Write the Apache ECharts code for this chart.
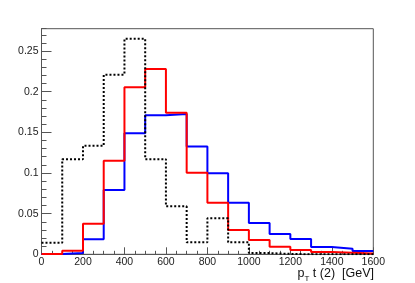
<!DOCTYPE html>
<html>
<head>
<meta charset="utf-8">
<script src="https://cdn.jsdelivr.net/npm/echarts@6/dist/echarts.min.js"></script>
<style>
  html, body { margin: 0; padding: 0; background: #fff; }
  #chart { width: 415px; height: 283px; }
</style>
</head>
<body>
<div id="chart"></div>
<script>
// bin low edges [GeV], 100 GeV wide bins from 0 to 1600
var binEdges = [0, 100, 200, 300, 400, 500, 600, 700, 800, 900, 1000, 1100, 1200, 1300, 1400, 1500];
var xEnd = 1600;

// normalised contents
var blueValues  = [0.0003, 0.0016, 0.0184, 0.079, 0.149, 0.171, 0.1725, 0.1325, 0.0996, 0.0635, 0.0385, 0.025, 0.0188, 0.009, 0.0069, 0.004];
var redValues   = [0.0005, 0.0045, 0.0377, 0.115, 0.2054, 0.228, 0.174, 0.1004, 0.0635, 0.030, 0.0176, 0.0094, 0.0053, 0.0028, 0.002, 0.001];
var blackValues = [0.0143, 0.117, 0.1336, 0.221, 0.265, 0.117, 0.059, 0.0148, 0.0443, 0.0148, 0.0015, 0.0005, 0, 0, 0, 0];

var xTicks = [0, 200, 400, 600, 800, 1000, 1200, 1400, 1600];
var yTicks = [0, 0.05, 0.1, 0.15, 0.2, 0.25];
var yMax = 0.2775;

// step-line points: one per bin low edge, plus the closing upper edge
function histPoints(vals) {
  var pts = [];
  for (var i = 0; i < binEdges.length; i++) {
    pts.push([binEdges[i], vals[i]]);
  }
  pts.push([xEnd, vals[vals.length - 1]]);
  return pts;
}

function histSeries(vals, color, type) {
  return {
    type: 'line',
    step: 'end',
    data: histPoints(vals),
    showSymbol: false,
    symbol: 'none',
    xAxisIndex: 0,
    yAxisIndex: 0,
    lineStyle: { color: color, width: 2, type: type },
    animation: false
  };
}

var labelFont = { fontFamily: 'Liberation Sans', fontSize: 10.5, color: '#222' };
var axisGray = '#555';

var chart = echarts.init(document.getElementById('chart'));
chart.setOption({
  animation: false,
  title: {
    text: '{a|p}{b|T}{a| t (2)  [GeV]}',
    right: 41,
    top: 265,
    padding: 0,
    textStyle: {
      fontWeight: 'normal',
      rich: {
        a: { fontFamily: 'Liberation Sans', fontSize: 12.5, fontWeight: 'normal', color: '#111', lineHeight: 18, verticalAlign: 'middle' },
        b: { fontFamily: 'Liberation Sans', fontSize: 8, fontWeight: 'normal', color: '#111', lineHeight: 8, verticalAlign: 'bottom' }
      }
    }
  },
  grid: {
    left: 41.5, right: 41.7, top: 28.7, bottom: 28.7,
    show: true, borderColor: axisGray, borderWidth: 1, backgroundColor: 'transparent'
  },
  xAxis: {
    type: 'value',
    min: 0,
    max: xEnd,
    interval: 200,
    axisLine: { show: true, onZero: false, lineStyle: { color: axisGray, width: 1 } },
    axisTick: { show: true, inside: true, length: 7, lineStyle: { color: axisGray } },
    minorTick: { show: true, splitNumber: 4, length: 3.5, lineStyle: { color: axisGray } },
    splitLine: { show: false },
    axisLabel: Object.assign({ margin: 2, formatter: function (v) { return xTicks.indexOf(v) >= 0 ? String(v) : ''; } }, labelFont)
  },
  yAxis: [{
    type: 'value',
    min: 0,
    max: yMax,
    interval: 0.05,
    axisLine: { show: true, lineStyle: { color: axisGray, width: 1 } },
    axisTick: { show: true, inside: true, length: 10, lineStyle: { color: axisGray } },
    splitLine: { show: false },
    axisLabel: Object.assign({
      margin: 3,
      showMaxLabel: false,
      formatter: function (v) {
        for (var i = 0; i < yTicks.length; i++) {
          if (Math.abs(v - yTicks[i]) < 1e-6) return String(yTicks[i]);
        }
        return '';
      }
    }, labelFont)
  }, {
    // minor ticks every 0.01
    type: 'value',
    position: 'left',
    min: 0,
    max: yMax,
    interval: 0.01,
    axisLine: { show: false },
    axisTick: { show: true, inside: true, length: 5, lineStyle: { color: axisGray } },
    splitLine: { show: false },
    axisLabel: { show: false }
  }],
  series: [
    histSeries(blueValues, '#0000ff', 'solid'),
    histSeries(redValues, '#ff0000', 'solid'),
    histSeries(blackValues, '#000000', [2, 2])
  ]
});
</script>
</body>
</html>
